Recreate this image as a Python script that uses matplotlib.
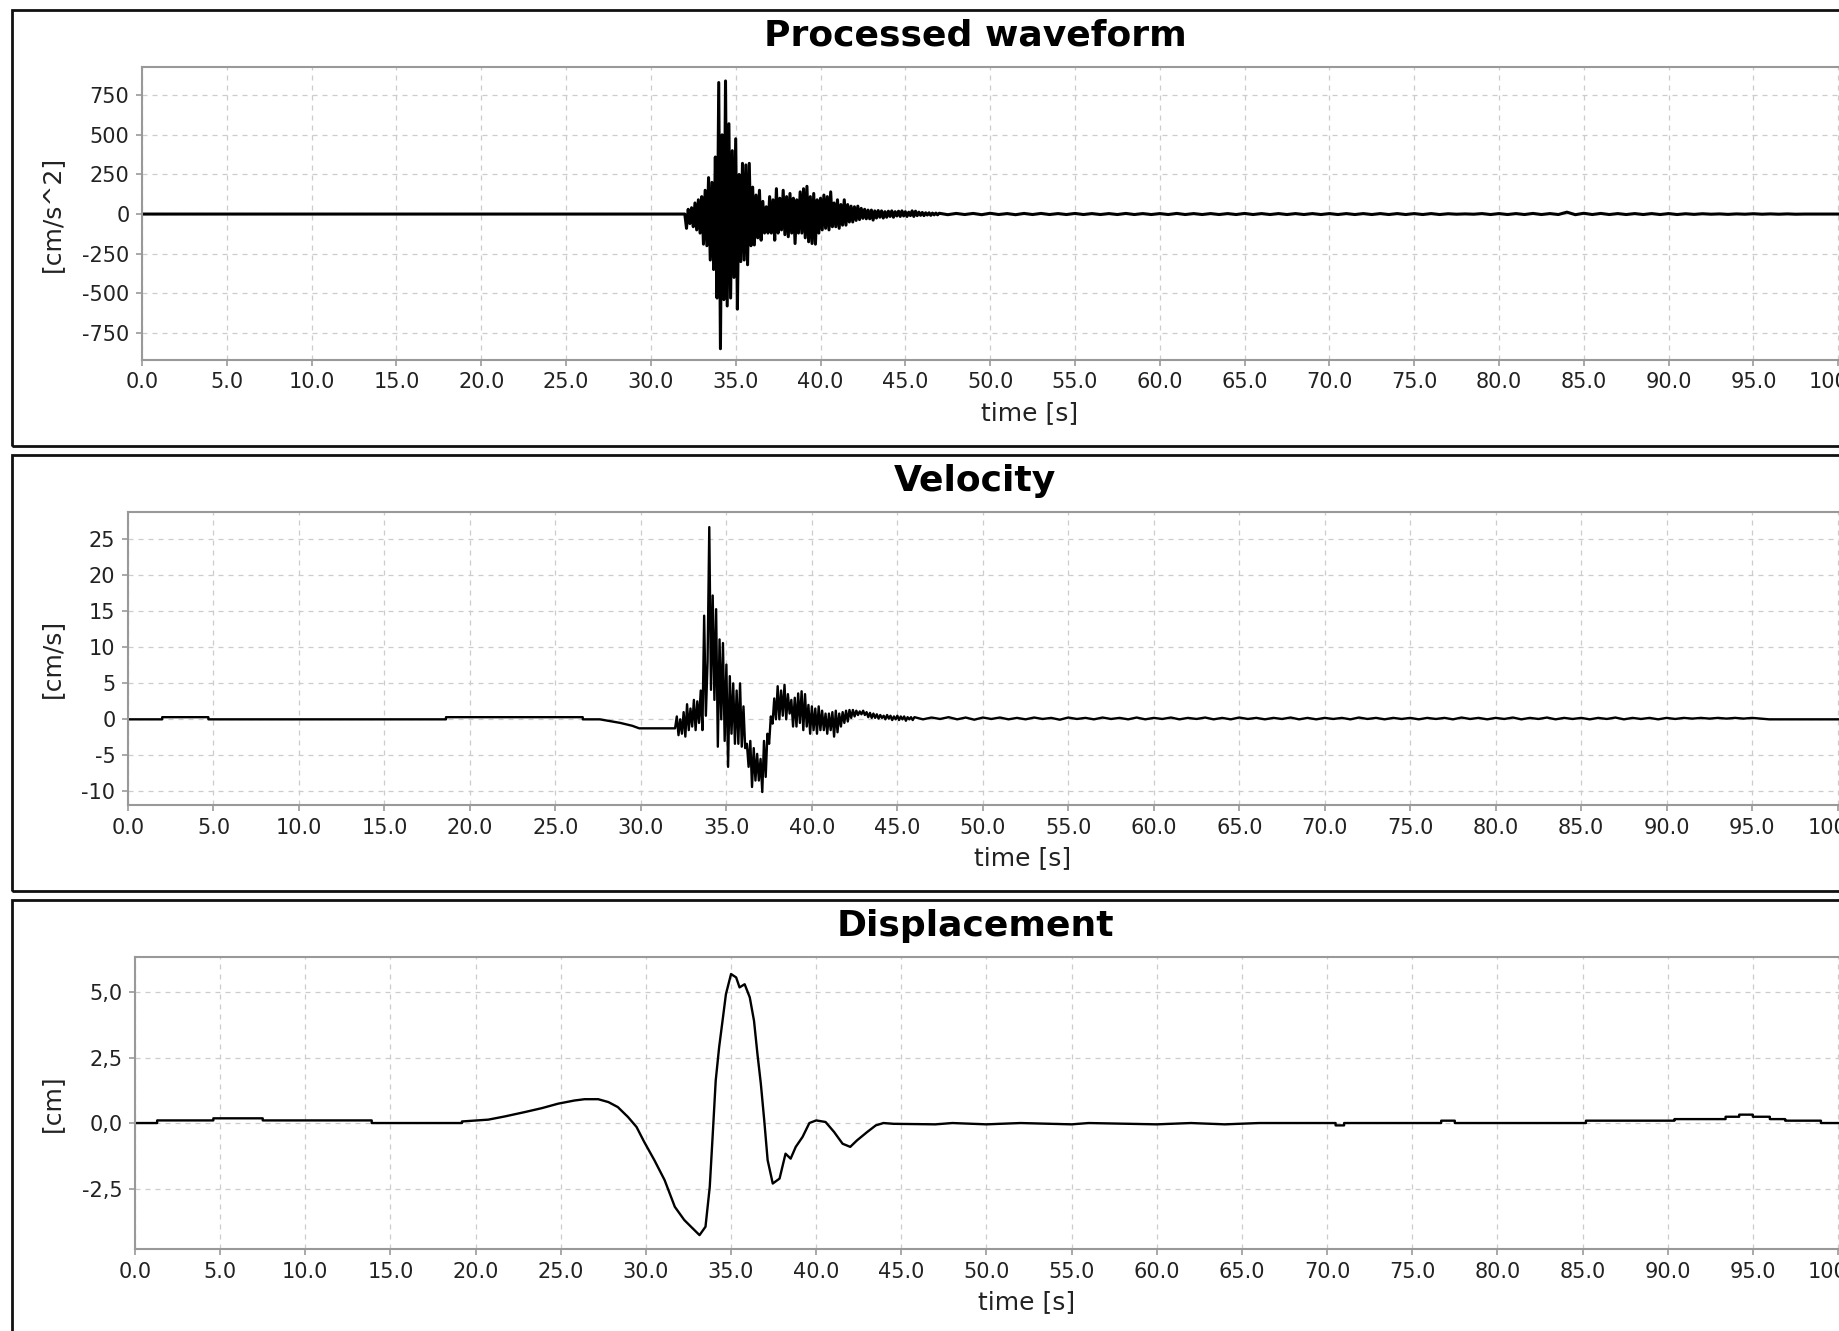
import matplotlib
matplotlib.use('Agg')
import matplotlib.pyplot as plt
import numpy as np
from matplotlib.patches import Rectangle
from matplotlib.ticker import FuncFormatter

plt.rcParams['font.family'] = 'DejaVu Sans'
plt.rcParams['axes.unicode_minus'] = False

# ---- acceleration [cm/s^2] ----
# burst, one sample every 0.1 s starting at 32.0 s
acc_burst_start = 32.0
acc_burst = [
    0, -90, 30, -60, 40, -80, 70, -100, 90, -120,
    110, -190, 150, -200, 230, -290, 200, -350, 360, -530,
    830, -850, 500, -540, 840, -580, 570, -530, 400, -400,
    475, -600, 250, -300, 320, -290, 310, -320, 320, -200,
    170, -195, 120, -150, 150, -165, 80, -120, 46, -120,
    110, -120, 90, -165, 160, -120, 100, -100, 150, -130,
    110, -143, 130, -120, 100, -186, 90, -120, 140, -120,
    160, -150, 175, -175, 110, -186, 130, -190, 90, -120,
    100, -100, 120, -90, 110, -100, 140, -80, 70, -80,
    90, -90, 60, -70, 90, -70, 60, -50, 50, -50,
    46, -40, 50, -35, 36, -27, 30, -30, 25, -30,
    25, -38, 20, -25, 22, -20, 20, -25, 15, -20,
    18, -15, 20, -20, 15, -12, 18, -15, 20, -12,
    15, -15, 12, -10, 20, -15, 18, -10, 12, -8,
    10, -10, 8, -6, 8, -8, 6, -5, 6, -5,
]
# tail, one sample every 0.5 s starting at 47.0 s
acc_tail_start = 47.0
acc_tail = [
    5, -4, 4, -3, 4, -4, 5, -3, 3, -4, 4, -3, 4, -3, 3, -3, 4, -3, 3, -3,
    3, -3, 4, -3, 3, -3, 3, -3, 4, -3, 3, -3, 3, -3, 3, -3, 4, -3, 3, -3,
    3, -3, 3, -3, 3, -3, 3, -3, 3, -3, 3, -3, 3, -3, 3, -3, 3, -3, 3, -3,
    2, -1, 1, -1, 3, -3, 3, -3, 3, -3, 4, -3, 3, -3, 12, -4, 5, -3, 4, -3,
    3, -3, 3, -3, 3, -3, 3, -3, 2, -2, 2, -1, 1, -2, 1, -1, 2, -1, 1, -1,
    1, -1,
]

# ---- velocity [cm/s] ----
vel_pre_t = [0.0, 2.0, 2.0, 4.7, 4.7, 18.6, 18.6, 26.6, 26.6, 27.6, 28.8, 29.5, 29.9, 31.9]
vel_pre_v = [0.0, 0.0, 0.3, 0.3, 0.0, 0.0, 0.3, 0.3, 0.0, 0.0, -0.5, -0.9, -1.25, -1.25]
vel_burst_start = 32.0
vel_burst = [
    -1.25, 0.4, -2.2, 0.0, -2.0, 1.0, -2.4, 2.1, -1.5, 1.5,
    -1.0, 2.7, -1.5, 2.5, -0.5, 4.0, -1.5, 14.4, 0.5, 8.0,
    26.7, 4.1, 17.2, 2.7, 15.3, -3.8, 11.1, 0.0, 10.6, -3.0,
    7.6, -6.6, 6.0, -2.0, 5.0, -3.4, 4.0, -3.4, 5.0, -3.8,
    1.8, -4.0, -3.4, -6.6, -3.0, -9.4, -4.0, -8.5, -4.8, -8.5,
    -5.5, -10.1, -3.0, -8.0, -2.0, -3.4, 0.4, -0.6, 2.9, 0.0,
    4.6, 0.0, 4.0, 0.5, 4.8, 0.0, 3.5, 0.8, 2.7, -1.0,
    3.0, -1.0, 3.6, -0.5, 3.9, -1.5, 3.5, -1.0, 2.0, -2.0,
    1.8, -1.5, 1.5, -2.0, 1.8, -1.5, 1.2, -1.5, 0.8, -2.0,
    0.8, -1.5, 1.0, -2.4, 1.2, -1.8, 0.8, -1.0, 1.0, -0.5,
    1.2, -0.3, 1.3, 0.2, 1.3, 0.4, 1.2, 0.6, 1.1, 0.7,
    1.2, 0.6, 1.0, 0.3, 0.9, 0.2, 0.8, 0.2, 0.7, 0.1,
    0.6, 0.2, 0.5, 0.0, 0.6, 0.1, 0.5, -0.1, 0.4, 0.0,
    0.5, -0.1, 0.4, 0.0, 0.4, -0.2, 0.3, 0.0, 0.3, -0.1,
]
vel_tail_start = 46.0
vel_tail = [
    0.3, 0.0, 0.25, 0.05, 0.3, 0.0, 0.25, -0.05, 0.25, 0.05, 0.25, 0.0, 0.2, 0.0, 0.25, 0.05, 0.2, -0.05, 0.25, 0.05,
    0.2, 0.0, 0.25, 0.05, 0.2, 0.0, 0.25, 0.0, 0.2, 0.05, 0.25, 0.0, 0.2, 0.05, 0.25, 0.0, 0.2, 0.0, 0.25, 0.05,
    0.2, 0.0, 0.2, 0.05, 0.25, 0.0, 0.2, 0.0, 0.2, 0.05, 0.2, 0.0, 0.25, 0.05, 0.2, 0.0, 0.2, 0.05, 0.2, 0.0,
    0.2, 0.05, 0.2, 0.0, 0.25, 0.05, 0.2, 0.0, 0.2, 0.05, 0.25, 0.0, 0.2, 0.05, 0.25, 0.0, 0.2, 0.05, 0.2, 0.0,
    0.2, 0.05, 0.25, 0.0, 0.2, 0.05, 0.2, 0.0, 0.2, 0.05, 0.2, 0.1, 0.2, 0.1, 0.2, 0.1, 0.2, 0.1, 0.2, 0.1,
    0.0,
]
t_end = 104.7

# ---- displacement [cm] ----
disp_t = [0.0, 1.3, 1.3, 4.6, 4.6, 7.5, 7.5, 13.9, 13.9, 19.2, 19.2,
          20.75, 21.7, 22.9, 23.9, 24.85, 25.8, 26.4, 27.2, 27.8, 28.35, 28.95,
          29.45, 29.9, 30.5, 31.1, 31.7, 32.25, 32.65, 33.15, 33.5, 33.75, 33.95,
          34.1, 34.3, 34.5, 34.7, 35.0, 35.3, 35.5, 35.8, 36.1, 36.35, 36.55,
          36.75, 36.95, 37.15, 37.45, 37.85, 38.2, 38.5, 38.8, 39.2, 39.6, 40.0,
          40.55, 41.05, 41.55, 42.0, 42.4, 43.0, 43.5, 43.95, 44.55, 47.0, 48.0,
          50.0, 52.0, 55.0, 56.0, 60.0, 62.0, 64.0, 66.0, 70.5, 70.5, 71.0, 71.0,
          76.7, 76.7, 77.5, 77.5, 85.2, 85.2, 90.4, 90.4, 93.4, 93.4, 94.2, 94.2,
          95.0, 95.0, 96.0, 96.0, 96.9, 96.9, 99.0, 99.0, 104.7]
disp_v = [0.0, 0.0, 0.1, 0.1, 0.18, 0.18, 0.1, 0.1, 0.0, 0.0, 0.06,
          0.13, 0.25, 0.42, 0.57, 0.74, 0.86, 0.91, 0.91, 0.80, 0.61, 0.23,
          -0.15, -0.72, -1.42, -2.18, -3.2, -3.7, -3.96, -4.28, -3.96, -2.44, -0.15,
          1.62, 2.89, 3.9, 4.92, 5.69, 5.56, 5.18, 5.3, 4.8, 3.9, 2.64,
          1.5, 0.1, -1.42, -2.31, -2.12, -1.17, -1.36, -0.91, -0.53, 0.0, 0.1,
          0.04, -0.34, -0.79, -0.91, -0.66, -0.34, -0.09, 0.0, -0.03, -0.05, 0.0,
          -0.05, 0.0, -0.05, 0.0, -0.05, 0.0, -0.05, 0.0, 0.0, -0.09, -0.09, 0.0,
          0.0, 0.09, 0.09, 0.0, 0.0, 0.09, 0.09, 0.15, 0.15, 0.24, 0.24, 0.32,
          0.32, 0.24, 0.24, 0.15, 0.15, 0.09, 0.09, 0.0, 0.0]

titles = ['Processed waveform', 'Velocity', 'Displacement']
y_labels = ['[cm/s^2]', '[cm/s]', '[cm]']
acc_ticks = [-750, -500, -250, 0, 250, 500, 750]
vel_ticks = [-10, -5, 0, 5, 10, 15, 20, 25]
disp_ticks = [-2.5, 0.0, 2.5, 5.0]
x_ticks = np.arange(0, 101, 5)


def series(start, step, values):
    return start + step * np.arange(len(values)), np.array(values, dtype=float)


at_b, av_b = series(acc_burst_start, 0.1, acc_burst)
at_t, av_t = series(acc_tail_start, 0.5, acc_tail)
acc_t = np.concatenate([[0.0, 31.95], at_b, at_t, [98.0, t_end]])
acc_v = np.concatenate([[0.0, 0.0], av_b, av_t, [0.0, 0.0]])

vt_b, vv_b = series(vel_burst_start, 0.1, vel_burst)
vt_t, vv_t = series(vel_tail_start, 0.5, vel_tail)
vel_t = np.concatenate([vel_pre_t, vt_b, vt_t, [t_end]])
vel_v = np.concatenate([vel_pre_v, vv_b, vv_t, [0.0]])

W, H = 1840, 1331
fig = plt.figure(figsize=(W / 100, H / 100), dpi=100)
fig.patch.set_facecolor('white')

# pixel boxes: (left, right, top, bottom)
axes_px = [(142, 1918, 67, 360), (128, 1918, 512, 805), (135, 1918, 957, 1249)]
frames_px = [(12, 1938, 10, 446), (12, 1938, 455, 891), (12, 1938, 900, 1336)]
title_y = [36, 481, 926]
ylims = [(-921, 928), (-11.9, 28.8), (-4.81, 6.34)]
tick_sets = [acc_ticks, vel_ticks, disp_ticks]
data = [(acc_t, acc_v), (vel_t, vel_v), (np.array(disp_t), np.array(disp_v))]
line_w = [2.2, 1.7, 1.7]

for i in range(3):
    fl, fr, ft, fb = frames_px[i]
    fig.patches.append(Rectangle((fl / W, 1 - fb / H), (fr - fl) / W, (fb - ft) / H,
                                 transform=fig.transFigure, fill=False,
                                 edgecolor='#111111', linewidth=2))
    fig.text(975 / W, 1 - title_y[i] / H, titles[i], ha='center', va='center',
             fontsize=26, fontweight='bold')

    l, r, t, b = axes_px[i]
    ax = fig.add_axes([l / W, 1 - b / H, (r - l) / W, (b - t) / H])
    x, y = data[i]
    ax.plot(x, y, color='black', linewidth=line_w[i])
    ax.set_xlim(0, t_end)
    ax.set_ylim(*ylims[i])
    ax.set_xticks(x_ticks)
    ax.set_yticks(tick_sets[i])
    ax.xaxis.set_major_formatter(FuncFormatter(lambda v, p: f"{v:.1f}"))
    if i == 2:
        ax.yaxis.set_major_formatter(FuncFormatter(lambda v, p: f"{v:.1f}".replace('.', ',')))
    else:
        ax.yaxis.set_major_formatter(FuncFormatter(lambda v, p: f"{v:.0f}"))
    ax.grid(True, color='#cccccc', linestyle=(0, (4, 4)), linewidth=0.9)
    ax.set_axisbelow(True)
    for s in ax.spines.values():
        s.set_color('#999999')
        s.set_linewidth(1.5)
    ax.tick_params(colors='#999999', labelcolor='#222222', labelsize=15,
                   length=4, width=1.2, pad=5)
    ax.set_xlabel('time [s]', fontsize=18, color='#222222', labelpad=6)
    ax.set_ylabel(y_labels[i], fontsize=18, color='#222222', va='center')
    ax.yaxis.set_label_coords(52 / W, 1 - (t + b) / 2 / H, transform=fig.transFigure)

fig.savefig('out.png', dpi=100)
